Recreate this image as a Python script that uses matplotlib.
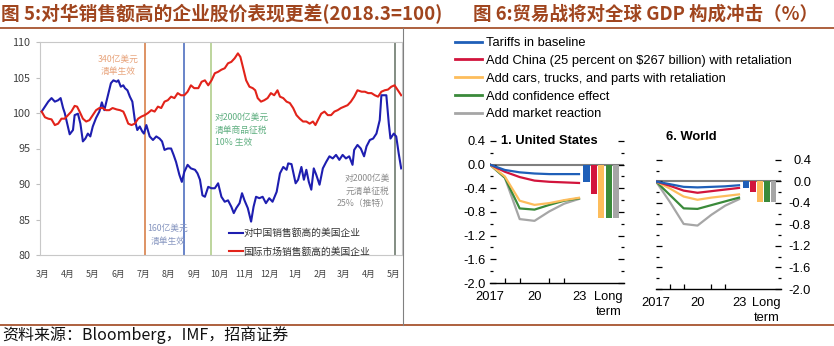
import numpy as np
import pandas as pd
import matplotlib
matplotlib.use('Agg')
import matplotlib.pyplot as plt
from matplotlib.lines import Line2D
from matplotlib import font_manager

plt.rcParams['font.family'] = ['Noto Sans CJK SC', 'DejaVu Sans']

names = {f.name for f in font_manager.fontManager.ttflist}
if 'Liberation Sans Narrow' in names:
    imf_font = ['Liberation Sans Narrow', 'DejaVu Sans']
    imf_size = 10
else:
    imf_font = ['Liberation Sans', 'DejaVu Sans']
    imf_size = 9.3

# ---------------- data: figure 5 (index, 2018.3 = 100) ----------------
start = pd.Timestamp('2018-03-01')
blue_days = [2, 6, 10, 14, 18, 22, 25, 28, 30, 33, 36, 40, 42, 46, 49, 52, 55, 58, 61, 64,
             68, 72, 75, 78, 82, 86, 89, 93, 95, 98, 101, 103, 106, 109, 112, 115, 118, 121, 124, 126,
             129, 133, 137, 141, 145, 148, 151, 155, 159, 162, 165, 169, 172, 175, 179, 183, 188, 191, 194, 197,
             200, 204, 208, 212, 216, 220, 224, 228, 232, 235, 238, 242, 245, 248, 252, 256, 259, 262, 266, 270,
             274, 278, 282, 287, 291, 295, 299, 301, 305, 310, 313, 317, 320, 323, 326, 329, 332, 335, 339, 343,
             347, 351, 355, 359, 363, 367, 371, 375, 379, 381, 385, 389, 393, 396, 400, 404, 408, 412, 414, 417,
             420, 423, 425, 429, 432, 435, 438]
blue_vals = [100.2, 100.9, 101.6, 102.1, 101.6, 101.8, 102.1, 100.7, 100.0, 98.5, 97.0, 97.6, 99.7, 99.9, 98.5, 96.0, 96.4, 97.1, 96.7, 98.1,
             99.3, 100.2, 101.5, 100.4, 102.3, 104.2, 104.6, 104.4, 104.6, 103.7, 103.9, 103.5, 103.2, 102.3, 101.6, 99.0, 97.6, 98.1, 97.4, 97.1,
             98.3, 96.7, 96.2, 96.7, 96.4, 96.0, 94.8, 95.0, 95.0, 94.1, 93.1, 91.3, 90.3, 91.7, 92.7, 92.2, 92.0, 91.5, 90.6, 88.4,
             88.2, 89.6, 89.4, 89.4, 90.1, 88.2, 87.5, 87.7, 86.8, 85.9, 86.6, 87.3, 88.7, 87.7, 86.6, 84.7, 86.8, 88.2, 88.0, 88.2,
             87.3, 88.0, 87.5, 88.9, 91.5, 92.4, 92.0, 92.9, 92.8, 90.1, 90.6, 92.4, 90.6, 92.0, 90.3, 89.2, 92.2, 91.3, 89.9, 92.2,
             93.1, 93.9, 93.6, 94.1, 93.4, 94.1, 93.6, 93.9, 92.7, 94.8, 95.5, 95.0, 93.9, 95.3, 96.2, 96.4, 97.1, 99.0, 102.5, 102.5,
             102.5, 98.5, 96.4, 97.1, 96.7, 94.3, 92.2]
red_days = [2, 6, 10, 14, 18, 22, 26, 30, 34, 38, 42, 45, 48, 52, 56, 60, 64, 68, 72, 76,
            80, 84, 88, 93, 97, 101, 103, 107, 111, 115, 119, 123, 127, 131, 135, 139, 143, 147, 151, 155,
            159, 163, 167, 171, 175, 179, 183, 187, 192, 196, 200, 204, 208, 212, 216, 220, 224, 228, 232, 236,
            240, 243, 246, 250, 254, 258, 261, 264, 268, 272, 276, 280, 284, 288, 291, 295, 299, 303, 307, 311,
            315, 319, 323, 327, 331, 334, 337, 341, 345, 349, 353, 357, 361, 365, 369, 373, 377, 381, 385, 390,
            394, 398, 402, 406, 410, 414, 418, 422, 426, 430, 434, 438]
red_vals = [100.2, 99.4, 99.2, 99.1, 98.3, 98.5, 99.2, 99.2, 99.7, 100.2, 101.0, 100.9, 100.2, 99.2, 98.8, 99.0, 99.7, 100.4, 100.7, 100.7,
            100.4, 100.4, 100.7, 100.5, 100.4, 100.2, 99.7, 98.5, 98.3, 98.5, 99.2, 99.5, 99.7, 100.0, 100.4, 100.2, 100.9, 100.7, 101.6, 101.8,
            102.3, 102.1, 102.8, 102.5, 102.5, 103.0, 103.9, 103.5, 103.5, 104.4, 104.6, 103.9, 104.6, 105.6, 105.8, 106.1, 106.3, 107.0, 107.2, 107.7,
            108.4, 107.9, 106.5, 104.6, 103.7, 103.5, 103.2, 102.1, 101.6, 101.8, 102.1, 102.8, 102.5, 103.2, 102.3, 102.1, 101.6, 101.4, 100.7, 99.7,
            99.2, 98.8, 98.8, 98.5, 98.8, 98.3, 99.0, 99.9, 100.2, 99.7, 99.7, 100.2, 100.4, 100.7, 100.9, 101.1, 101.6, 102.3, 103.2, 103.0,
            103.0, 102.8, 102.8, 102.5, 102.3, 103.0, 103.2, 103.3, 103.7, 103.9, 103.2, 102.5]
series_names = ['对中国销售额高的美国企业', '国际市场销售额高的美国企业']

event_dates = ['2018-07-06', '2018-08-23', '2018-09-24', '2019-05-05']
event_colors = ['#D8804A', '#4F6FC0', '#B2CE8C', '#6E7A6E']
event_texts = ['340亿美元\n清单生效', '160亿美元\n清单生效', '对2000亿美元\n清单商品征税\n10% 生效', '对2000亿美\n元清单征税\n25%（推特）']

month_labels = ['3月', '4月', '5月', '6月', '7月', '8月', '9月', '10月', '11月', '12月', '1月', '2月', '3月', '4月', '5月']

# ---------------- data: figure 6 (GDP impact, %) ----------------
years = [2017, 2018, 2019, 2020, 2021, 2022, 2023]
scen_names = ['Tariffs in baseline', 'Add China (25 percent on $267 billion) with retaliation',
              'Add cars, trucks, and parts with retaliation', 'Add confidence effect', 'Add market reaction']
scen_colors = ['#1F5FB8', '#D2143C', '#FDBD5C', '#3A8A3A', '#A6A6A6']

us_base = [0, -0.09, -0.13, -0.15, -0.16, -0.16, -0.16]
us_china = [0, -0.12, -0.21, -0.27, -0.29, -0.30, -0.31]
us_cars = [0, -0.20, -0.61, -0.68, -0.65, -0.60, -0.56]
us_conf = [0, -0.22, -0.74, -0.76, -0.68, -0.61, -0.57]
us_mkt = [0, -0.22, -0.92, -0.95, -0.79, -0.66, -0.58]
us_long = [-0.29, -0.50, -0.90, -0.90, -0.90]

w_base = [0, -0.05, -0.10, -0.11, -0.10, -0.09, -0.07]
w_china = [0, -0.08, -0.17, -0.21, -0.18, -0.15, -0.12]
w_cars = [0, -0.13, -0.28, -0.34, -0.30, -0.27, -0.24]
w_conf = [0, -0.25, -0.50, -0.51, -0.44, -0.37, -0.30]
w_mkt = [0, -0.38, -0.79, -0.82, -0.62, -0.45, -0.33]
w_long = [-0.12, -0.20, -0.38, -0.38, -0.38]

W, H = 834, 346
fig = plt.figure(figsize=(W / 100, H / 100), dpi=100)

def px(x0, y0, x1, y1):
    # pixel box (top-left origin) -> figure fraction
    return [x0 / W, 1 - y1 / H, (x1 - x0) / W, (y1 - y0) / H]

brown = '#A0451E'
fig.text(1 / W, 1 - 14 / H, '图 5:对华销售额高的企业股价表现更差(2018.3=100)', fontsize=13.5,
         fontweight='bold', color=brown, va='center', ha='left')
fig.text(473 / W, 1 - 14 / H, '图 6:贸易战将对全球 GDP 构成冲击（%）', fontsize=13.3,
         fontweight='bold', color=brown, va='center', ha='left')
fig.add_artist(Line2D([0, 1], [1 - 27.5 / H] * 2, color=brown, lw=1.2))
fig.add_artist(Line2D([0, 1], [1 - 325 / H] * 2, color=brown, lw=1.2))
fig.add_artist(Line2D([403 / W] * 2, [1 - 28 / H, 1 - 325 / H], color='#808080', lw=0.8))
fig.text(2 / W, 1 - 335 / H, '资料来源：Bloomberg，IMF，招商证券', fontsize=11.5, color='#111111',
         va='center', ha='left')

# ---------------- left chart ----------------
ax = fig.add_axes(px(40, 42, 402, 255))
ax.plot(blue_days, blue_vals, color='#1E1EB0', lw=1.5, label=series_names[0], zorder=3)
ax.plot(red_days, red_vals, color='#E2231A', lw=1.5, label=series_names[1], zorder=3)
ev_x = [(pd.Timestamp(d) - start).days for d in event_dates]
for x, c in zip(ev_x, event_colors):
    ax.axvline(x, color=c, lw=1.2, zorder=2)

ax.text(95, 106.7, event_texts[0], color='#E8A47C', fontsize=6.3, ha='center', va='center', linespacing=1.5)
ax.text(155, 82.8, event_texts[1], color='#8796C0', fontsize=6.3, ha='center', va='center', linespacing=1.5)
ax.text(212, 97.6, event_texts[2], color='#5FAF80', fontsize=6.3, ha='left', va='center', linespacing=1.5)
ax.text(424, 89.0, event_texts[3], color='#8C8C8C', fontsize=6.3, ha='right', va='center', linespacing=1.5)

ax.set_xlim(0, 439)
ax.set_ylim(80, 110)
ax.set_yticks(np.arange(80, 111, 5))
month_pos = (pd.date_range('2018-03-01', '2019-05-01', freq='MS') - start).days + 3
ax.set_xticks(month_pos)
ax.set_xticklabels(month_labels)
ax.tick_params(axis='x', length=0, pad=11, labelsize=6.3, labelcolor='#404040')
ax.tick_params(axis='y', length=3, color='#BFBFBF', labelsize=7.8, labelcolor='#404040', pad=4)
for s in ax.spines.values():
    s.set_color('#C8C8C8')
    s.set_linewidth(0.8)
ax.legend(loc='upper left', bbox_to_anchor=((229 - 40) / 362, (255 - 228) / 213), frameon=False,
          fontsize=7, handlelength=1.4, handletextpad=0.1, labelspacing=0.9, borderpad=0,
          borderaxespad=0, labelcolor='#333333')

# ---------------- right chart ----------------
def panel(box, data, longterm, title, title_y, label_side):
    a = fig.add_axes(px(*box))
    a.axhline(0, color='#7F7F7F', lw=1.5, zorder=1)
    for vals, c in list(zip(data, scen_colors))[::-1]:
        a.plot(years, vals, color=c, lw=1.6, zorder=3)
    bar_x = 2023.5 + 0.5 * np.arange(len(longterm))
    a.bar(bar_x, longterm, width=0.42, color=scen_colors, zorder=2)
    a.set_xlim(2017, 2026)
    a.set_ylim(-2.0, 0.45)
    a.set_yticks(np.arange(-2.0, 0.41, 0.4))
    a.set_yticks(np.arange(-1.8, 0.21, 0.4), minor=True)
    a.set_yticklabels(['%.1f' % v if abs(v) > 1e-9 else '0.0' for v in np.arange(-2.0, 0.41, 0.4)])
    a.set_xticks([2017, 2020, 2023, 2025])
    a.set_xticklabels(['2017', '20', '23', 'Long\nterm'])
    a.set_xticks(years, minor=True)
    for s in ['top', 'left', 'right']:
        a.spines[s].set_visible(False)
    a.spines['bottom'].set_linewidth(1.0)
    a.tick_params(axis='x', which='major', length=0, pad=6, labelsize=imf_size)
    a.tick_params(axis='x', which='minor', length=3.5, direction='in', width=0.9)
    a.tick_params(axis='y', which='major', length=4.5, direction='in', width=0.9, left=True, right=True,
                  labelsize=imf_size)
    a.tick_params(axis='y', which='minor', length=2.5, direction='in', width=0.9, left=True, right=True)
    if label_side == 'left':
        a.tick_params(axis='y', labelleft=True, labelright=False, pad=3)
    else:
        a.tick_params(axis='y', labelleft=False, labelright=True, pad=22)
        for t in a.get_yticklabels():
            t.set_ha('right')
    for t in a.get_xticklabels() + a.get_yticklabels():
        t.set_family(imf_font)
        t.set_linespacing(1.25)
    a.text(2017.75, title_y, title, fontsize=imf_size, fontweight='bold', family=imf_font,
           ha='left', va='center', clip_on=False)
    return a

us_ax = panel((490, 138, 623.5, 283), [us_base, us_china, us_cars, us_conf, us_mkt], us_long,
              '1. United States', 0.4, 'left')
w_ax = panel((656, 157.3, 780.5, 289), [w_base, w_china, w_cars, w_conf, w_mkt], w_long,
             '6. World', 0.83, 'right')

handles = [Line2D([], [], color=c, lw=2) for c in scen_colors]
fig.legend(handles, scen_names, loc='upper left', bbox_to_anchor=(455 / W, 1 - 37 / H), frameon=False,
           prop={'family': imf_font, 'size': imf_size}, handlelength=2.1, handletextpad=0.3,
           labelspacing=0.45, borderpad=0, borderaxespad=0)

fig.savefig('out.png', dpi=100)
